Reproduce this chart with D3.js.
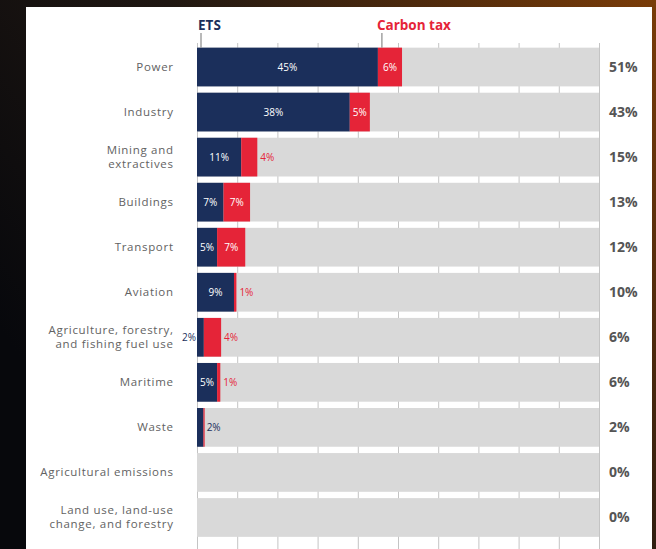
<!DOCTYPE html>
<html>
<head>
<meta charset="utf-8">
<script src="https://cdn.jsdelivr.net/npm/d3@7"></script>
<style>
  html, body { margin: 0; padding: 0; }
  body { width: 656px; height: 549px; overflow: hidden; }
  svg text { font-family: "Open Sans", sans-serif; }
</style>
</head>
<body>
<div id="chart"></div>
<script>
// data (% share)
const sectors = ["Power", "Industry", "Mining and\nextractives", "Buildings", "Transport", "Aviation",
  "Agriculture, forestry,\nand fishing fuel use", "Maritime", "Waste", "Agricultural emissions",
  "Land use, land-use\nchange, and forestry"];
const etsShare = [45, 38, 11, 6.6, 5, 9.2, 1.7, 5, 1.6, 0, 0];
const taxShare = [6, 5, 4, 6.6, 7, 0.6, 4.3, 0.8, 0.3, 0, 0];
const totalShare = [51, 43, 15, 13, 12, 10, 6, 6, 2, 0, 0];
const gridTicks = [0, 10, 20, 30, 40, 50, 60, 70, 80, 90, 100];

const W = 656, H = 549;
const navy = "#1b2f5b", red = "#e52438", track = "#d9d9d9";

const svg = d3.select("#chart").append("svg")
  .attr("width", W).attr("height", H);

// dark backdrop
const grad = svg.append("defs").append("linearGradient")
  .attr("id", "bg").attr("x1", "0").attr("y1", "0.6").attr("x2", "1").attr("y2", "0");
grad.append("stop").attr("offset", "0").attr("stop-color", "#07080c");
grad.append("stop").attr("offset", "0.45").attr("stop-color", "#1f1712");
grad.append("stop").attr("offset", "1").attr("stop-color", "#7a3c08");
svg.append("rect").attr("width", W).attr("height", H).attr("fill", "url(#bg)");
svg.append("rect").attr("x", 26).attr("y", 7).attr("width", 626).attr("height", H - 7).attr("fill", "#fff");

const x = d3.scaleLinear().domain([0, 100]).range([197, 599]);
const y = d3.scaleBand().domain(sectors).range([44.5, 540]).paddingInner(0.14).paddingOuter(0.07);

// gridlines (show in the gaps between rows)
svg.append("g")
  .attr("transform", "translate(0,43)")
  .call(d3.axisBottom(x).tickValues(gridTicks).tickSize(H).tickFormat(""))
  .call(g => g.select(".domain").remove())
  .call(g => g.selectAll("line").attr("stroke", "#c4c4c4"));

const rows = svg.append("g").selectAll("g").data(sectors).join("g")
  .attr("transform", d => `translate(0,${y(d)})`);

rows.append("rect").attr("x", x(0)).attr("width", x(100) - x(0))
  .attr("height", y.bandwidth()).attr("fill", track);
rows.append("rect").attr("x", x(0)).attr("width", (d, i) => x(etsShare[i]) - x(0))
  .attr("height", y.bandwidth()).attr("fill", navy);
rows.append("rect").attr("x", (d, i) => x(etsShare[i]))
  .attr("width", (d, i) => x(etsShare[i] + taxShare[i]) - x(etsShare[i]))
  .attr("height", y.bandwidth()).attr("fill", red);

const mid = y.bandwidth() / 2;

// sector names
rows.append("text")
  .attr("text-anchor", "end").attr("fill", "#626262")
  .style("font-size", "11.5px").style("letter-spacing", "0.7px")
  .each(function (d) {
    const lines = d.split("\n");
    const t = d3.select(this);
    lines.forEach((ln, k) => {
      t.append("tspan").attr("x", 173.7)
        .attr("y", mid + 4 + (k - (lines.length - 1) / 2) * 14)
        .text(ln);
    });
  });

// ETS labels
rows.append("text")
  .attr("y", mid + 3.5).style("font-size", "10px")
  .each(function (d, i) {
    const e = etsShare[i], t = taxShare[i];
    const t0 = d3.select(this);
    if (Math.round(e) === 0) return;
    t0.text(Math.round(e) + "%");
    if (e >= 4) {
      t0.attr("x", (x(0) + x(e)) / 2).attr("text-anchor", "middle").attr("fill", "#fff");
    } else if (Math.round(t) > 0) {
      t0.attr("x", x(0) - 1).attr("text-anchor", "end").attr("fill", navy);
    } else {
      t0.attr("x", x(e + t) + 2).attr("text-anchor", "start").attr("fill", navy);
    }
  });

// carbon tax labels
rows.append("text")
  .attr("y", mid + 3.5).style("font-size", "10px")
  .each(function (d, i) {
    const e = etsShare[i], t = taxShare[i];
    const t0 = d3.select(this);
    if (Math.round(t) === 0) return;
    t0.text(Math.round(t) + "%");
    if (t >= 5) {
      t0.attr("x", (x(e) + x(e + t)) / 2).attr("text-anchor", "middle").attr("fill", "#fff");
    } else {
      t0.attr("x", x(e + t) + 3).attr("text-anchor", "start").attr("fill", red);
    }
  });

// totals
rows.append("text")
  .attr("x", 609).attr("y", mid + 5)
  .attr("fill", "#555").style("font-size", "14px").style("font-weight", "bold")
  .text((d, i) => totalShare[i] + "%");

// legend
const first = sectors[0];
const legend = [
  { name: "ETS", color: navy, at: x(0) + 4, tx: x(0) + 1 },
  { name: "Carbon tax", color: red, at: x(etsShare[0]) + 4, tx: x(etsShare[0]) - 1 }
];
legend.forEach(l => {
  svg.append("line").attr("x1", l.at).attr("x2", l.at).attr("y1", 33).attr("y2", y(first))
    .attr("stroke", "#8a8a8a").attr("stroke-width", 1.2);
  svg.append("text").attr("x", l.tx).attr("y", 30)
    .attr("fill", l.color).style("font-size", "13.5px").style("font-weight", "bold")
    .text(l.name);
});
</script>
</body>
</html>
